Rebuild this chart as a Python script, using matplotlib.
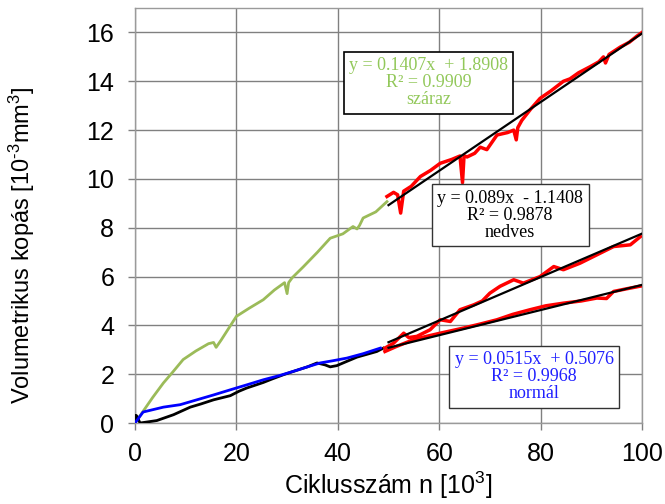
import matplotlib
matplotlib.use("Agg")
import matplotlib.pyplot as plt
import numpy as np

plt.rcParams['font.family'] = ['Liberation Sans', 'DejaVu Sans']
plt.rcParams['mathtext.fontset'] = 'custom'
plt.rcParams['mathtext.rm'] = 'Liberation Sans'
plt.rcParams['mathtext.it'] = 'Liberation Sans:italic'
plt.rcParams['mathtext.bf'] = 'Liberation Sans:bold'

# száraz (dry) 0-50: green, 50-100: red
szaraz_x1 = [0, 1.5, 3.5, 5.6, 7.5, 9.5, 12, 14.5, 15.5, 16.0, 17, 20, 22.5, 25.3, 27.5, 29.5, 30.0, 30.3, 31, 33.2, 36, 38.5, 41, 43, 43.8, 44.3, 45, 47.5, 49.7]
szaraz_y1 = [0, 0.45, 1.05, 1.64, 2.1, 2.6, 2.95, 3.25, 3.3, 3.1, 3.4, 4.37, 4.7, 5.05, 5.45, 5.75, 5.3, 5.75, 5.95, 6.4, 7.0, 7.57, 7.75, 8.05, 7.95, 8.1, 8.4, 8.65, 9.07]
szaraz_x2 = [49.7, 51.0, 51.8, 52.4, 53.0, 54.5, 56.3, 58.3, 60.2, 62.5, 64.1, 64.6, 64.9, 65.5, 67, 68.1, 69.4, 71.4, 73.5, 74.7, 75.2, 75.5, 76.3, 78, 79.9, 82, 84.5, 85.8, 87.5, 89.8, 91.5, 92.4, 92.8, 93.5, 95.7, 97.5, 99, 100]
szaraz_y2 = [9.28, 9.45, 9.35, 8.6, 9.5, 9.7, 10.1, 10.35, 10.64, 10.8, 10.94, 9.85, 10.95, 10.9, 11.05, 11.3, 11.2, 11.8, 11.9, 12.0, 11.6, 12.1, 12.4, 12.85, 13.3, 13.6, 14.0, 14.1, 14.35, 14.6, 14.8, 15.0, 14.75, 15.1, 15.4, 15.6, 15.85, 16.0]

# nedves (wet) 0-50: black, 50-100: red
nedves_x1 = [0, 0.1, 0.3, 1.0, 4.3, 7.6, 10.9, 13, 15.5, 18.8, 20.5, 22, 25.3, 27, 29.3, 31.9, 34, 35.9, 37.5, 38.5, 39.8, 41.5, 43.8, 45.5, 47.7, 49.0]
nedves_y1 = [0.3, 0.05, 0.3, 0.0, 0.1, 0.34, 0.65, 0.78, 0.95, 1.12, 1.3, 1.43, 1.66, 1.8, 1.98, 2.16, 2.3, 2.46, 2.38, 2.3, 2.35, 2.5, 2.7, 2.8, 2.93, 3.07]
nedves_x2 = [49.3, 51.0, 53.0, 54.0, 55.6, 58.2, 60.2, 62.2, 64.1, 66.8, 68.5, 70.0, 72.0, 74.7, 76.6, 79.9, 82.6, 84.5, 87.8, 91.1, 94.4, 97.7, 99.7]
nedves_y2 = [3.07, 3.27, 3.68, 3.5, 3.55, 3.82, 4.23, 4.16, 4.64, 4.84, 5.0, 5.32, 5.6, 5.87, 5.73, 6.0, 6.41, 6.28, 6.55, 6.89, 7.23, 7.3, 7.64]

# normál 0-50: blue, 50-100: red
normal_x1 = [0, 1.6, 5.6, 8.9, 12.2, 15.5, 18.8, 22, 25.3, 28.6, 31.9, 34, 36.5, 39, 41.8, 45, 48.4]
normal_y1 = [0, 0.45, 0.65, 0.75, 0.95, 1.15, 1.36, 1.56, 1.77, 1.95, 2.16, 2.3, 2.46, 2.55, 2.66, 2.84, 3.07]
normal_x2 = [49.3, 51.6, 54.9, 57.5, 60.2, 64.8, 68, 71.4, 74.5, 77.9, 81, 84.5, 88, 91.1, 93, 94.4, 97, 100]
normal_y2 = [2.93, 3.14, 3.41, 3.55, 3.68, 3.89, 4.05, 4.23, 4.45, 4.64, 4.8, 4.91, 5.0, 5.12, 5.1, 5.39, 5.5, 5.62]

# trend lines (slope, intercept) over 50..100
trend_szaraz = (0.1407, 1.8908)
trend_nedves = (0.089, -1.1408)
trend_normal = (0.0515, 0.5076)
trend_x = [50, 100]

xticks = [0, 20, 40, 60, 80, 100]
yticks = [0, 2, 4, 6, 8, 10, 12, 14, 16]

fig = plt.figure(figsize=(6.65, 5.04), dpi=100)
ax = fig.add_axes([0.203, 0.1607, 0.9654 - 0.203, 0.984 - 0.1607])

green = "#9BBB59"
red = "#FF0000"
blue = "#0000FF"

ax.plot(szaraz_x1, szaraz_y1, color=green, lw=2, zorder=3)
ax.plot(nedves_x1, nedves_y1, color="black", lw=2, zorder=3)
ax.plot(normal_x1, normal_y1, color=blue, lw=2, zorder=4)
ax.plot(szaraz_x2, szaraz_y2, color=red, lw=2.5, zorder=3)
ax.plot(nedves_x2, nedves_y2, color=red, lw=2.5, zorder=3)
ax.plot(normal_x2, normal_y2, color=red, lw=2.5, zorder=3)

for (m, b) in [trend_szaraz, trend_nedves, trend_normal]:
    tx = np.array(trend_x, dtype=float)
    ax.plot(tx, m * tx + b, color="black", lw=1.6, zorder=5)

ax.set_xlim(0, 100)
ax.set_ylim(0, 17)
ax.set_xticks(xticks)
ax.set_yticks(yticks)
ax.grid(True, color="#808080", lw=1)
ax.set_axisbelow(True)
for s in ax.spines.values():
    s.set_color("#9a9a9a")
    s.set_linewidth(1)
ax.tick_params(direction="out", length=5, width=1, color="#808080", labelsize=18)
ax.tick_params(axis="x", pad=9)
ax.tick_params(axis="y", pad=10)

ax.set_xlabel("Ciklusszám n [10$^{3}$]", fontsize=18)
ax.xaxis.set_label_coords(0.5, -0.113)
ax.set_ylabel("Volumetrikus kopás [10$^{\u20103}$mm$^{3}$]", fontsize=17)
ax.yaxis.set_label_coords(-0.193, 0.429)

box = dict(boxstyle="square,pad=0.3", fc="white", ec="black", lw=1.2)
ax.text(57.9, 13.93, "y = 0.1407x  + 1.8908\nR² = 0.9909\nszáraz", ha="center", va="center",
        color="#92C85A", fontsize=13, family="Liberation Serif", linespacing=1.0, bbox=box, zorder=6)
box2 = dict(boxstyle="square,pad=0.3", fc="white", ec="#333333", lw=1.0)
ax.text(74.0, 8.51, "y = 0.089x  - 1.1408\nR² = 0.9878\nnedves", ha="center", va="center",
        color="black", fontsize=13, family="Liberation Serif", linespacing=1.0, bbox=box2, zorder=6)
ax.text(78.7, 1.90, "y = 0.0515x  + 0.5076\nR² = 0.9968\nnormál", ha="center", va="center",
        color="#2020FF", fontsize=13, family="Liberation Serif", linespacing=1.0, bbox=box2, zorder=6)

fig.savefig("out.png", dpi=100)
